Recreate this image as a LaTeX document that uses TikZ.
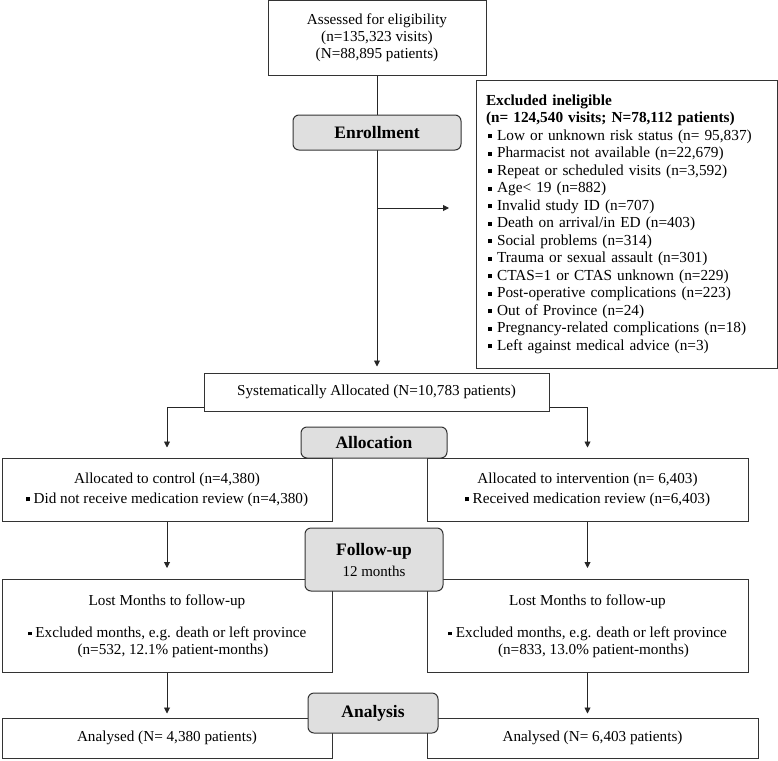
\documentclass[tikz,border=0pt]{standalone}
\usepackage{fontspec}
\setmainfont{Liberation Serif}
\usetikzlibrary{positioning,arrows.meta}
\newcommand{\bul}{\rule[0.25ex]{0.26em}{0.26em}\ }

\begin{document}
\begin{tikzpicture}[x=1pt, y=-1pt,
  every node/.style={font=\fontsize{15.2}{17}\selectfont},
  box/.style={draw=black!80, line width=1pt, inner sep=0pt, align=center},
  phase/.style={draw=black!80, line width=1pt, fill=gray!25, rounded corners=6pt,
    inner sep=0pt, align=center, font=\fontsize{17.5}{20}\selectfont\bfseries},
  arr/.style={draw=black!85, line width=0.9pt, -{Triangle[length=6pt,width=6pt]}}]
  \useasboundingbox (0,0) rectangle (778,760);

  % Main flow boxes
  \node[box, minimum width=218, minimum height=74] (assess) at (377,38) {Assessed for eligibility\\(n=135,323 visits)\\(N=88,895 patients)};
  \node[box, minimum width=301, minimum height=288, text width=281, align=left,
    font=\fontsize{15.3}{17.5}\selectfont] (excl) at (626.5,224) {%
    \textbf{Excluded ineligible}\\
    \textbf{(n= 124,540 visits; N=78,112 patients)}\\
    \hspace*{2pt}\bul Low or unknown risk status (n= 95,837)\\
    \hspace*{2pt}\bul Pharmacist not available (n=22,679)\\
    \hspace*{2pt}\bul Repeat or scheduled visits (n=3,592)\\
    \hspace*{2pt}\bul Age< 19 (n=882)\\
    \hspace*{2pt}\bul Invalid study ID (n=707)\\
    \hspace*{2pt}\bul Death on arrival/in ED (n=403)\\
    \hspace*{2pt}\bul Social problems (n=314)\\
    \hspace*{2pt}\bul Trauma or sexual assault (n=301)\\
    \hspace*{2pt}\bul CTAS=1 or CTAS unknown (n=229)\\
    \hspace*{2pt}\bul Post-operative complications (n=223)\\
    \hspace*{2pt}\bul Out of Province (n=24)\\
    \hspace*{2pt}\bul Pregnancy-related complications (n=18)\\
    \hspace*{2pt}\bul Left against medical advice (n=3)};
  \node[box, minimum width=345, minimum height=38] (sysalloc) at (376.5,392) {Systematically Allocated (N=10,783 patients)};

  % Two arms
  \node[box, minimum width=330, minimum height=63] (ctrl) at (167,489.5) {Allocated to control (n=4,380)\\[3pt]\bul Did not receive medication review (n=4,380)};
  \node[box, minimum width=321, minimum height=63] (intv) at (587.5,489.5) {Allocated to intervention (n= 6,403)\\[3pt]\bul Received medication review (n=6,403)};
  \node[box, minimum width=330, minimum height=93] (lostL) at (167,626) {Lost Months to follow-up\\[15pt]\bul Excluded months, e.g. death or left province\\\hspace*{12pt}(n=532, 12.1\% patient-months)};
  \node[box, minimum width=321, minimum height=93] (lostR) at (587.5,626) {Lost Months to follow-up\\[15pt]\bul Excluded months, e.g. death or left province\\\hspace*{12pt}(n=833, 13.0\% patient-months)};
  \node[box, minimum width=330, minimum height=40] (anaL) at (167,738) {Analysed (N= 4,380 patients)};
  \node[box, minimum width=331, minimum height=40] (anaR) at (592.5,738) {Analysed (N= 6,403 patients)};

  % Connectors
  \coordinate (exclend) at (449,208);
  \draw[arr, shorten >=6pt] (assess.south) -- (assess.south |- sysalloc.north);
  \draw[arr] (assess.south |- exclend) -- (exclend);
  \draw[arr, shorten >=10pt] ([yshift=4pt]sysalloc.south west) -| (ctrl.north);
  \draw[arr, shorten >=10pt] ([yshift=4pt]sysalloc.south east) -| (intv.north);
  \draw[arr, shorten >=11pt] (ctrl) -- (lostL);
  \draw[arr, shorten >=11pt] (intv) -- (lostR);
  \draw[arr, shorten >=4pt] (lostL) -- (anaL.north -| lostL.south);
  \draw[arr, shorten >=4pt] (lostR) -- (anaR.north -| lostR.south);

  % Phase labels on top
  \node[phase, minimum width=168, minimum height=35] (enroll) at (377,132.5) {Enrollment};
  \node[phase, minimum width=146, minimum height=31] (alloc) at (374,442.5) {Allocation};
  \node[phase, minimum width=138, minimum height=63] (follow) at (374,559.5) {Follow-up\\[1pt]{\normalfont\fontsize{15}{17}\selectfont 12 months}};
  \node[phase, minimum width=130, minimum height=40] (analysis) at (373,713) {Analysis};
\end{tikzpicture}
\end{document}
